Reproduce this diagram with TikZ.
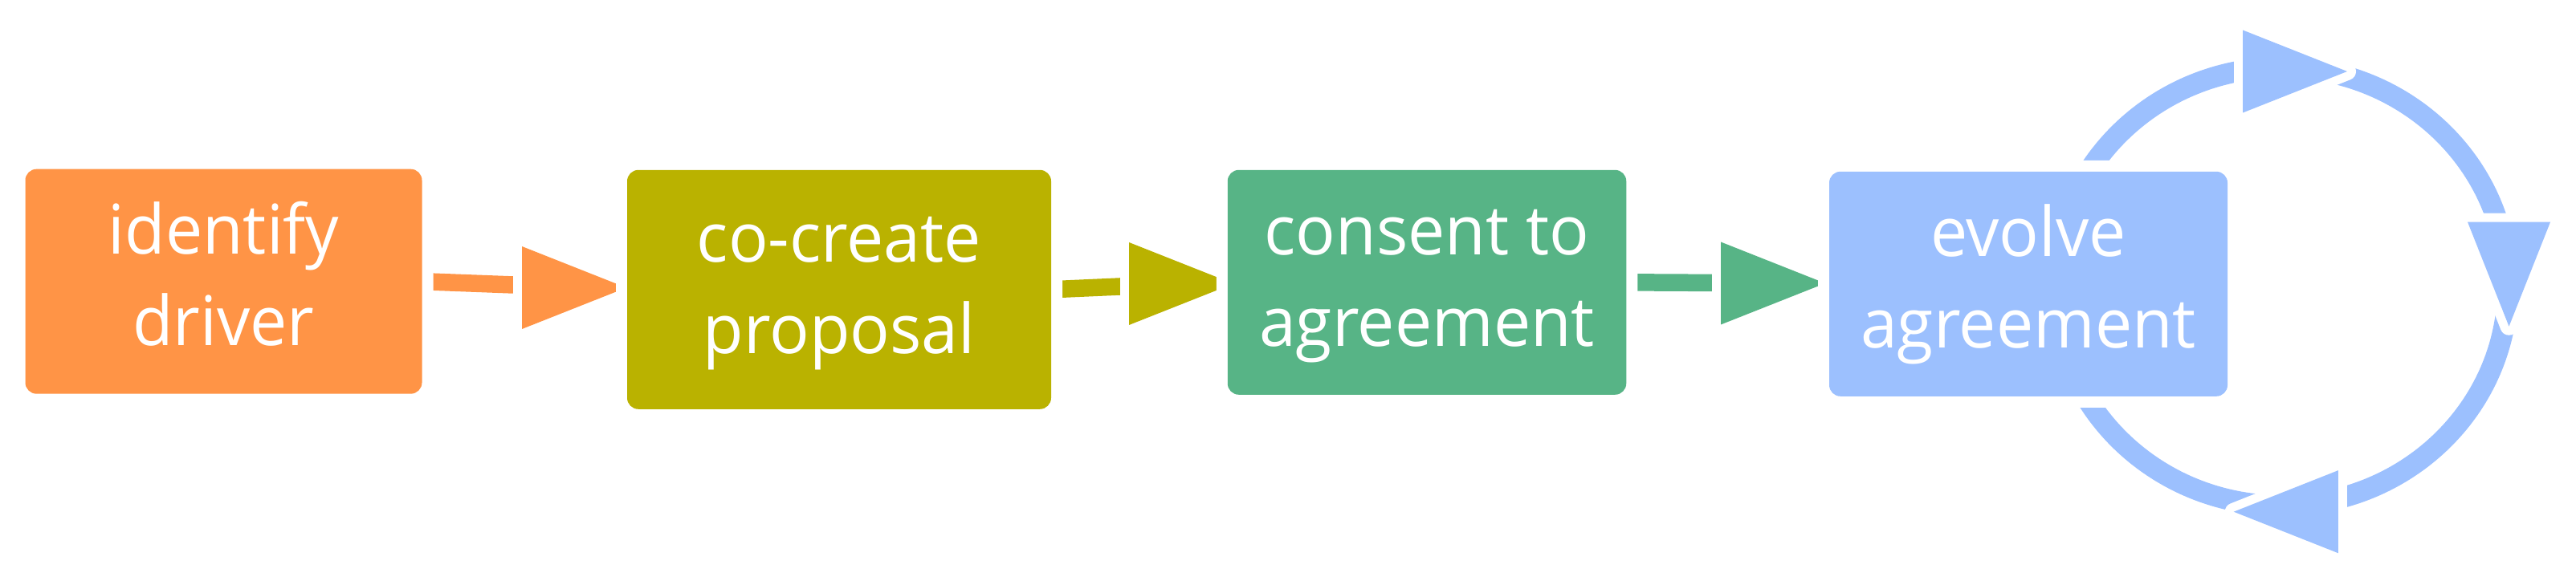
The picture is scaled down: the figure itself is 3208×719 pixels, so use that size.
\documentclass[tikz,border=0pt]{standalone}
\usepackage{fontspec}
\setmainfont{Open Sans}[FakeStretch=0.965]
\usetikzlibrary{calc}
\definecolor{corange}{HTML}{FF9446}
\definecolor{colive}{HTML}{BAB200}
\definecolor{cgreen}{HTML}{57B486}
\definecolor{cblue}{HTML}{9CC0FE}
\pgfdeclarelayer{back}
\pgfsetlayers{back,main}
\begin{document}
\begin{tikzpicture}[x=0.1mm, y=-0.1mm,
  box/.style={rounded corners=1.4mm, text=white, inner sep=0pt,
    font=\fontsize{24.3pt}{32.6pt}\selectfont,
    preaction={draw=white, line width=2.8mm}},
  shaft/.style={line width=2.15mm},
  arrowhd/.style={preaction={draw=white, line width=2.2mm, line join=round}}]
\useasboundingbox (0,0) rectangle (3208,719);

% boxes
\node[box, fill=corange, minimum width=49.4mm, minimum height=28mm] (b1) at (278.5,350.7)
  {\begin{tabular}[t]{@{}c@{}}identify\\driver\end{tabular}};
\node[box, fill=colive, minimum width=52.8mm, minimum height=29.8mm] (b2) at (1045,360.8)
  {\begin{tabular}[t]{@{}c@{}}co-create\\proposal\end{tabular}};
\node[box, fill=cgreen, minimum width=49.65mm, minimum height=28mm] (b3) at (1777,351.8)
  {\begin{tabular}[t]{@{}c@{}}consent to\\agreement\end{tabular}};
\node[box, fill=cblue, minimum width=49.6mm, minimum height=28mm] (b4) at (2526,353.8)
  {\begin{tabular}[t]{@{}c@{}}evolve\\agreement\end{tabular}};

\begin{pgfonlayer}{back}
% straight connectors
\coordinate (e1) at (650,355.4);  \coordinate (h1) at (650,358.5);
\coordinate (e2) at (1406,356.5); \coordinate (h2) at (1406,353.5);
\coordinate (e3) at (2143,352.5); \coordinate (h3) at (2143,353);
\draw[shaft, corange] (b1.east) -- (e1);
\fill[arrowhd, corange] ($(h1)+(0,-51.5)$) -- ++(130,51.5) -- ++(-130,51.5) -- cycle;
\draw[shaft, colive] (b2.east) -- (e2);
\fill[arrowhd, colive] ($(h2)+(0,-51.5)$) -- ++(130,51.5) -- ++(-130,51.5) -- cycle;
\draw[shaft, cgreen] (b3.east) -- (e3);
\fill[arrowhd, cgreen] ($(h3)+(0,-51.5)$) -- ++(130,51.5) -- ++(-130,51.5) -- cycle;

% evolve cycle
\coordinate (cyc) at (2841,357);
\draw[cblue, line width=2.6mm] (cyc) ellipse [x radius=28.2mm, y radius=27.3mm];
\coordinate (t1) at (2793,89);
\coordinate (t2) at (3124.5,276.7);
\coordinate (t3) at (2911.7,637.7);
\fill[arrowhd, cblue] ($(t1)+(0,-51.5)$) -- ++(130,51.5) -- ++(-130,51.5) -- cycle;
\fill[arrowhd, cblue] ($(t2)+(-51.5,0)$) -- ++(51.5,130) -- ++(51.5,-130) -- cycle;
\fill[arrowhd, cblue] ($(t3)+(0,-51.5)$) -- ++(-130,51.5) -- ++(130,51.5) -- cycle;
\end{pgfonlayer}
\end{tikzpicture}
\end{document}
